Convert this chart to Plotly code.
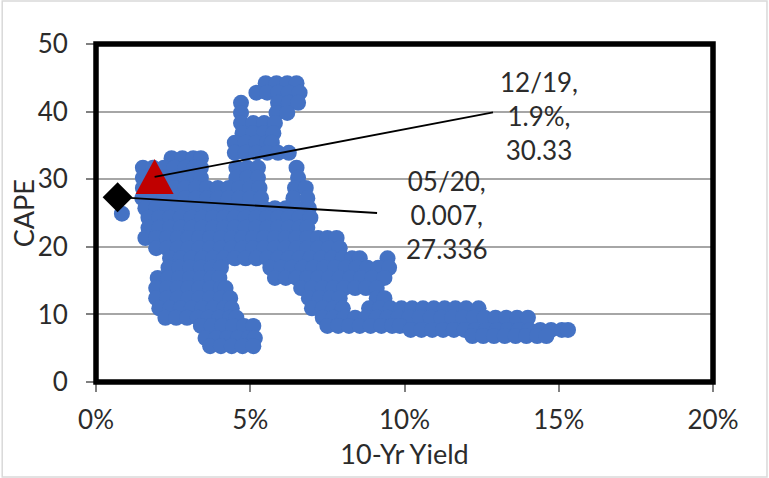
import plotly.graph_objects as go

# ---- data (10-Yr yield in %, CAPE) ----
cape_levels = [44.2, 42.8, 41.3, 39.8, 38.3, 36.8, 35.4, 33.9, 33.1, 31.7, 30.2, 28.7, 27.2,
               25.7, 24.9, 24.3, 22.8, 21.3, 19.8, 18.3, 16.9, 15.4, 13.9, 12.4, 10.9, 9.5,
               8.3, 7.7, 6.8, 6.5, 5.3]
yield_rows = [
    [5.5, 5.85, 6.2, 6.5],
    [5.2, 5.55, 5.9, 6.25, 6.6],
    [4.7, 5.9, 6.25, 6.55],
    [4.7, 5.85, 6.2],
    [4.7, 5.1, 5.45, 5.8],
    [4.75, 5.1, 5.45, 5.75],
    [4.5, 4.85, 5.2, 5.55, 5.7],
    [4.5, 4.85, 5.2, 5.55, 5.9, 6.25],
    [2.45, 2.8, 3.15, 3.4],
    [1.52, 1.85, 2.2, 2.55, 2.9, 3.2, 3.4, 4.55, 4.9, 5.25, 6.5],
    [1.52, 1.85, 2.2, 2.55, 2.9, 3.2, 3.4, 4.55, 4.9, 5.25, 6.55],
    [1.52, 1.85, 2.2, 2.55, 2.9, 3.25, 3.6, 3.95, 4.3, 4.65, 5.0, 5.3, 6.45, 6.8],
    [1.5, 1.85, 2.2, 2.55, 2.9, 3.25, 3.6, 3.95, 4.3, 4.65, 5.0, 5.35, 6.4, 6.85],
    [1.6, 1.95, 2.3, 2.65, 3.0, 3.35, 3.7, 4.05, 4.4, 4.75, 5.1, 5.45, 5.8, 6.15, 6.5, 6.9],
    [0.84],
    [1.7, 2.05, 2.4, 2.75, 3.1, 3.45, 3.8, 4.15, 4.5, 4.85, 5.2, 5.55, 5.9, 6.25, 6.6, 6.95],
    [1.7, 2.05, 2.4, 2.75, 3.1, 3.45, 3.8, 4.15, 4.5, 4.85, 5.2, 5.55, 5.9, 6.25, 6.6, 6.85],
    [1.6, 1.95, 2.3, 2.65, 3.0, 3.35, 3.7, 4.05, 4.4, 4.75, 5.1, 5.45, 5.8, 6.15, 6.5, 6.85,
     7.2, 7.5, 7.8],
    [1.95, 2.3, 2.65, 3.0, 3.35, 3.7, 4.05, 4.4, 4.75, 5.1, 5.45, 5.8, 6.15, 6.5, 6.85, 7.2,
     7.55, 7.9],
    [2.4, 2.75, 3.1, 3.45, 3.8, 4.15, 4.5, 4.85, 5.2, 5.55, 5.9, 6.25, 6.6, 6.95, 7.3, 7.65,
     8.0, 8.3, 8.55, 9.45],
    [2.35, 2.7, 3.05, 3.4, 3.75, 4.05, 5.65, 6.0, 6.35, 6.7, 7.05, 7.4, 7.75, 8.1, 8.45, 8.8,
     9.15, 9.5],
    [2.0, 2.35, 2.7, 3.05, 3.4, 3.75, 4.0, 5.8, 6.15, 6.5, 6.85, 7.2, 7.55, 7.9, 8.25, 8.6,
     8.95, 9.35],
    [1.95, 2.3, 2.65, 3.0, 3.35, 3.7, 4.05, 4.2, 6.65, 7.0, 7.35, 7.7, 8.05, 8.4, 8.75, 9.1],
    [1.95, 2.3, 2.65, 3.0, 3.35, 3.7, 4.05, 4.35, 6.9, 7.25, 7.6, 7.9, 9.1, 9.35],
    [2.05, 2.4, 2.75, 3.1, 3.45, 3.8, 4.15, 4.4, 7.0, 7.35, 7.7, 8.0, 8.85, 9.2, 9.55, 9.9,
     10.25, 10.6, 10.95, 11.3, 11.65, 12.0, 12.4],
    [2.25, 2.6, 2.95, 3.3, 3.65, 4.0, 4.35, 4.55, 7.35, 7.7, 8.05, 8.4, 8.75, 9.1, 9.45, 9.8,
     10.15, 10.5, 10.85, 11.2, 11.55, 11.9, 12.25, 12.6, 12.95, 13.3, 13.65, 14.0],
    [3.4, 3.75, 4.1, 4.45, 4.8, 5.1, 7.5, 7.85, 8.2, 8.55, 8.9, 9.25, 9.6, 9.85],
    [10.2, 10.55, 10.9, 11.25, 11.6, 11.95, 12.3, 12.65, 13.0, 13.35, 13.7, 14.05, 14.4,
     14.75, 15.1, 15.3],
    [12.2, 12.55, 12.9, 13.25, 13.6, 13.95, 14.3, 14.6],
    [3.55, 3.9, 4.25, 4.6, 4.95, 5.15],
    [3.7, 4.05, 4.4, 4.75, 5.1],
]

# highlighted points
prev_label, prev_yield, prev_cape = "12/19", 1.9, 30.33
latest_label, latest_yield_frac, latest_cape = "05/20", 0.007, 27.336
latest_yield = latest_yield_frac * 100

# label anchor positions (data units)
prev_line_end = (12.87, 39.9)
latest_line_end = (9.11, 25.0)
prev_text_pos = (14.36, 39.35)
latest_text_pos = (11.38, 24.7)

x_ticks = [0, 5, 10, 15, 20]
x_ticktext = [f"{v}%" for v in x_ticks]
y_ticks = [0, 10, 20, 30, 40, 50]
x_title = "10-Yr Yield"
y_title = "CAPE"

xs, ys = [], []
for c, row in zip(cape_levels, yield_rows):
    xs += row
    ys += [c] * len(row)

FONT = "Lato"
TXT = "#2b2b2b"

fig = go.Figure()
fig.add_trace(go.Scatter(x=xs, y=ys, mode="markers",
                         marker=dict(size=16, color="#4472C4", line=dict(width=0)),
                         showlegend=False, hoverinfo="skip"))
fig.add_trace(go.Scatter(x=[latest_yield], y=[latest_cape], mode="markers",
                         marker=dict(symbol="diamond", size=23, color="black", line=dict(width=0)),
                         showlegend=False))

# red triangle marker (pixel-sized, anchored at the 12/19 data point)
fig.add_shape(type="path", xref="x", yref="y", xsizemode="pixel", ysizemode="pixel",
              xanchor=prev_yield, yanchor=prev_cape,
              path="M-19,-17 L19,-17 L0,18 Z",
              fillcolor="#C00000", line=dict(width=0), layer="above")
# leader lines
fig.add_shape(type="line", xref="x", yref="y", x0=prev_yield, y0=prev_cape,
              x1=prev_line_end[0], y1=prev_line_end[1],
              line=dict(color="black", width=1.8), layer="above")
fig.add_shape(type="line", xref="x", yref="y", x0=latest_yield, y0=latest_cape,
              x1=latest_line_end[0], y1=latest_line_end[1],
              line=dict(color="black", width=1.8), layer="above")

fig.add_annotation(x=prev_text_pos[0], y=prev_text_pos[1], xref="x", yref="y",
                   text=f"{prev_label},<br>{prev_yield}%,<br>{prev_cape}",
                   showarrow=False, align="center",
                   font=dict(family=FONT, size=26, color=TXT))
fig.add_annotation(x=latest_text_pos[0], y=latest_text_pos[1], xref="x", yref="y",
                   text=f"{latest_label},<br>{latest_yield_frac},<br>{latest_cape}",
                   showarrow=False, align="center",
                   font=dict(family=FONT, size=26, color=TXT))
# y-axis title
fig.add_annotation(x=-0.118, y=0.5, xref="paper", yref="paper", text=y_title,
                   textangle=-90, showarrow=False, xanchor="center", yanchor="middle",
                   font=dict(family=FONT, size=27, color=TXT))

# plot-area border and outer chart frame
fig.add_shape(type="rect", xref="paper", yref="paper", x0=0, x1=1, y0=0, y1=1,
              line=dict(color="black", width=5.5), layer="above")
fig.add_shape(type="rect", xref="paper", yref="paper", x0=-0.152, x1=1.0875, y0=-0.281, y1=1.127,
              line=dict(color="#D9D9D9", width=1.5), layer="below")

fig.update_layout(
    width=769, height=478,
    margin=dict(l=96, r=56, t=44, b=96),
    paper_bgcolor="white", plot_bgcolor="white",
    font=dict(family=FONT, color=TXT),
    xaxis=dict(range=[0, 20], tickvals=x_ticks, ticktext=x_ticktext, ticks="outside",
               ticklen=9, tickwidth=1.5, tickcolor="#808080", showgrid=False,
               zeroline=False, showline=False, ticklabelstandoff=6,
               tickfont=dict(family=FONT, size=26, color=TXT),
               title=dict(text=x_title, font=dict(family=FONT, size=27, color=TXT),
                          standoff=10)),
    yaxis=dict(range=[0, 50], tickvals=y_ticks, ticks="outside",
               ticklen=9, tickwidth=1.5, tickcolor="#808080", showgrid=True,
               gridcolor="#A6A6A6", gridwidth=2, zeroline=False, showline=False,
               ticklabelstandoff=13,
               tickfont=dict(family=FONT, size=26, color=TXT)),
)

fig.write_html("out.html")
